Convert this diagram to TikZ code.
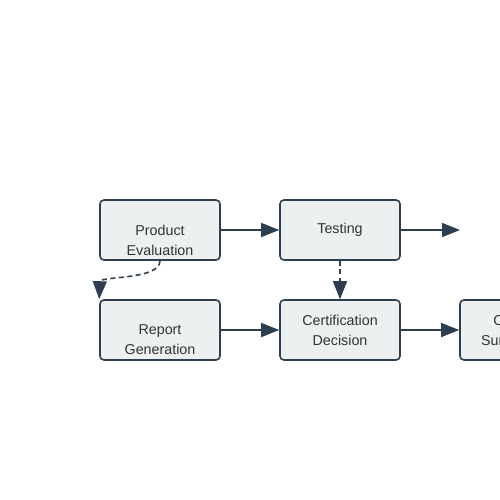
\documentclass[tikz,border=0pt]{standalone}
\usepackage{fontspec}
\setmainfont{Liberation Sans}
\usetikzlibrary{arrows.meta}
\definecolor{edgecol}{HTML}{2C3E50}
\definecolor{boxfill}{HTML}{ECF0F1}
\definecolor{txtcol}{HTML}{333333}
\tikzset{
  box/.style={rectangle,draw=edgecol,fill=boxfill,line width=1.6pt,rounded corners=4pt,
    minimum width=120pt,minimum height=60pt,align=center,text=txtcol,
    font=\fontsize{14.3}{20}\selectfont},
  lowtext/.style={label={[text=txtcol,align=center,font=\fontsize{14.3}{20}\selectfont,yshift=-10pt]center:#1}},
  flow/.style={draw=edgecol,line width=1.6pt,-{Triangle[length=18pt,width=14pt]}},
  dflow/.style={flow,dash pattern=on 5pt off 3.5pt}
}
\begin{document}
\begin{tikzpicture}[x=1pt,y=-1pt]
\useasboundingbox (0,0) rectangle (500,500);
\clip (0,0) rectangle (500,500);
% Top row
\node[box,lowtext={Product\\Evaluation}] (eval) at (160,230) {};
\node[box] (test) at (340,230) {Testing};
\coordinate (out) at (460,230);

% Bottom row
\node[box,lowtext={Report\\Generation}] (report) at (160,330) {};
\node[box] (decide) at (340,330) {Certification\\Decision};
\node[box] (surv) at (520,330) {Certified\\Surveillance};

% Connections
\draw[flow] (eval) -- (test);
\draw[flow] (test) -- (out);
\draw[flow] (report) -- (decide);
\draw[flow] (decide) -- (surv);
\draw[dflow] (test) -- (decide);
\draw[dflow] (eval.south) .. controls (160,280) and (100,276) .. (report.north west);
\end{tikzpicture}
\end{document}
